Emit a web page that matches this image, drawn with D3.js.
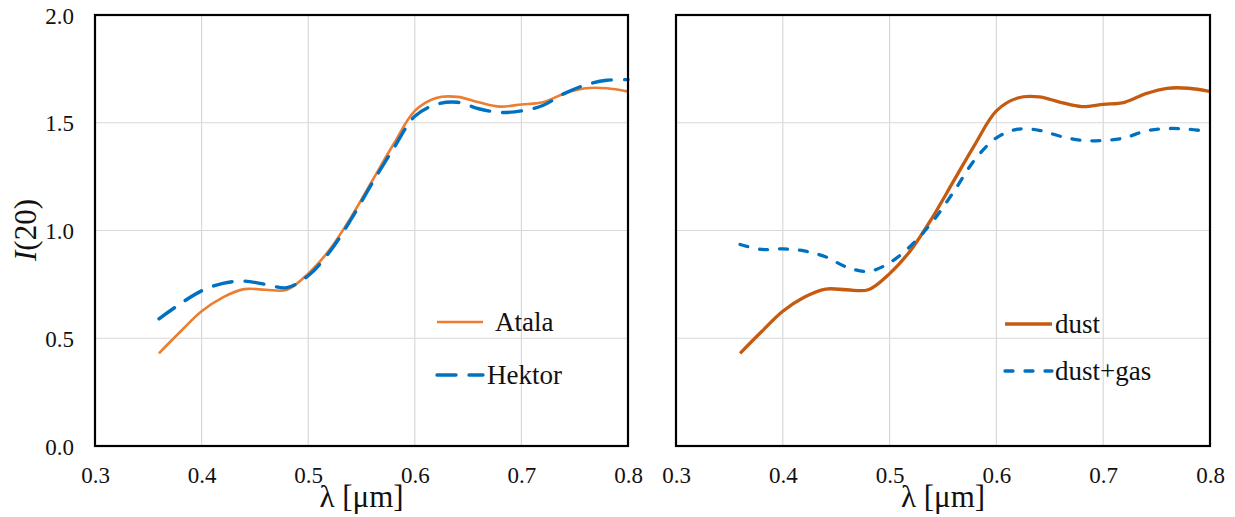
<!DOCTYPE html>
<html><head><meta charset="utf-8">
<script src="https://cdn.jsdelivr.net/npm/d3@7"></script>
<style>body{margin:0;background:#fff;} svg{display:block;}</style>
</head><body>
<svg id="c" width="1235" height="517"></svg>
<script>
const wavelengths = [0.36,0.38,0.40,0.42,0.44,0.46,0.48,0.50,0.52,0.54,0.56,0.58,0.60,0.62,0.64,0.66,0.68,0.70,0.72,0.74,0.76,0.78,0.80];
const atala   = [0.43,0.53,0.625,0.69,0.728,0.725,0.725,0.80,0.91,1.06,1.23,1.40,1.555,1.615,1.62,1.595,1.575,1.585,1.595,1.635,1.66,1.66,1.645];
const hektor  = [0.59,0.66,0.72,0.755,0.765,0.75,0.735,0.79,0.90,1.05,1.22,1.38,1.53,1.585,1.595,1.565,1.548,1.555,1.58,1.635,1.675,1.697,1.70];
const dust    = atala.slice();
const dustGas = [0.935,0.912,0.915,0.905,0.878,0.83,0.81,0.85,0.93,1.04,1.18,1.33,1.43,1.47,1.465,1.437,1.418,1.418,1.43,1.462,1.473,1.47,1.458];
const xTicks = [0.3,0.4,0.5,0.6,0.7,0.8];
const yTicks = [0.0,0.5,1.0,1.5,2.0];

const FONT = "Liberation Serif";
const svg = d3.select("#c");
const plotTop = 15, plotBottom = 446;
const y = d3.scaleLinear().domain([0,2]).range([plotBottom, plotTop]);

const panels = [
  {x0:95, x1:628, showY:true, series:[
    {name:"Atala", vals:atala, color:"#ED7D31", width:2.6, dash:null},
    {name:"Hektor", vals:hektor, color:"#0070C0", width:3.4, dash:"19,13"}],
   legend:{lx:437, lw:46, tx:[495,487], ly:[322,375]}},
  {x0:676, x1:1210, showY:false, series:[
    {name:"dust", vals:dust, color:"#C55A11", width:3.3, dash:null},
    {name:"dust+gas", vals:dustGas, color:"#0070C0", width:3.3, dash:"8,12"}],
   legend:{lx:1005, lw:47, tx:[1055,1055], ly:[324,371]}}
];

function label(sel, size) {
  return sel.attr("font-family", FONT).attr("font-size", size).attr("fill", "#111");
}

panels.forEach(p => {
  const x = d3.scaleLinear().domain([0.3,0.8]).range([p.x0, p.x1]);
  const g = svg.append("g");
  g.selectAll(".vg").data(xTicks.slice(1,-1)).enter().append("line")
    .attr("x1", d=>x(d)).attr("x2", d=>x(d)).attr("y1", plotTop).attr("y2", plotBottom)
    .attr("stroke","#d9d9d9").attr("stroke-width",1.2);
  g.selectAll(".hg").data(yTicks.slice(1,-1)).enter().append("line")
    .attr("x1", p.x0).attr("x2", p.x1).attr("y1", d=>y(d)).attr("y2", d=>y(d))
    .attr("stroke","#d9d9d9").attr("stroke-width",1.2);
  const xa = g.append("g").attr("transform",`translate(0,${plotBottom})`)
    .call(d3.axisBottom(x).tickValues(xTicks).tickSize(0).tickPadding(0).tickFormat(d3.format(".1f")));
  xa.attr("font-family", null).attr("font-size", null);
  xa.select(".domain").remove();
  label(xa.selectAll("text"), 23).attr("dy",null).attr("y",37);
  if (p.showY) {
    const ya = g.append("g").attr("transform",`translate(${p.x0},0)`)
      .call(d3.axisLeft(y).tickValues(yTicks).tickSize(0).tickPadding(0).tickFormat(d3.format(".1f")));
    ya.attr("font-family", null).attr("font-size", null);
    ya.select(".domain").remove();
    label(ya.selectAll("text"), 23).attr("x",-21).attr("dy","0.35em");
  }
  const line = vals => d3.line().curve(d3.curveCatmullRom.alpha(0.5))
    .x((d,i)=>x(wavelengths[i])).y(d=>y(d))(vals);
  p.series.forEach(s => {
    g.append("path").attr("d", line(s.vals)).attr("fill","none")
      .attr("stroke", s.color).attr("stroke-width", s.width)
      .attr("stroke-dasharray", s.dash).attr("stroke-linecap", s.dash ? "round" : "butt");
  });
  g.append("rect").attr("x",p.x0).attr("y",plotTop).attr("width",p.x1-p.x0).attr("height",plotBottom-plotTop)
    .attr("fill","none").attr("stroke","#000").attr("stroke-width",2.2);
  p.series.forEach((s,i) => {
    g.append("line").attr("x1",p.legend.lx).attr("x2",p.legend.lx+p.legend.lw)
      .attr("y1",p.legend.ly[i]).attr("y2",p.legend.ly[i])
      .attr("stroke",s.color).attr("stroke-width",s.width)
      .attr("stroke-dasharray",s.dash).attr("stroke-linecap", s.dash ? "round" : "butt");
    label(g.append("text"), 27).attr("x",p.legend.tx[i]).attr("y",p.legend.ly[i]).attr("dy","0.33em").text(s.name);
  });
  label(g.append("text"), 31).attr("x",(p.x0+p.x1)/2).attr("y",507).attr("text-anchor","middle").text("λ [μm]");
});

const yt = label(svg.append("text"), 31).attr("transform","translate(36,230) rotate(-90)").attr("text-anchor","middle");
yt.append("tspan").attr("font-style","italic").text("I");
yt.append("tspan").text("(20)");
</script>
</body></html>
